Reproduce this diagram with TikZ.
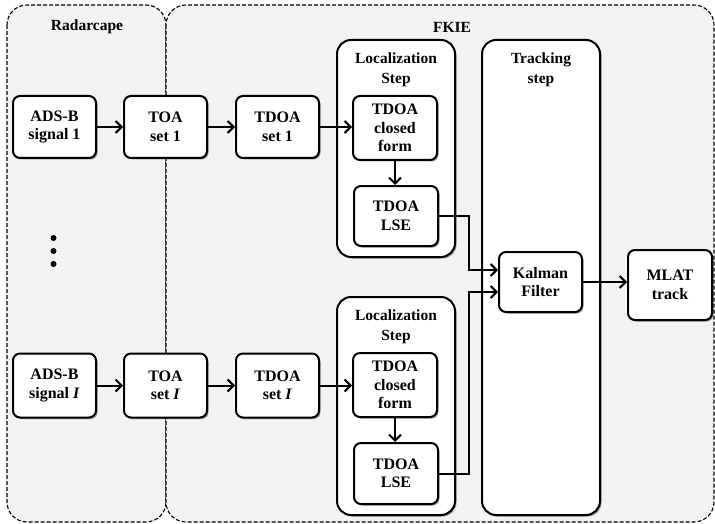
\documentclass[tikz,border=0pt]{standalone}
\usepackage{fontspec}
\setmainfont{Liberation Serif}
\usetikzlibrary{arrows.meta,shadows,calc}
\begin{document}
\begin{tikzpicture}[x=1pt,y=-1pt,
  region/.style={draw=black, line width=1.1pt, dash pattern=on 4pt off 2pt, fill=gray!10, rounded corners=20pt},
  box/.style={draw=black, line width=2pt, fill=white, rounded corners=7pt, align=center,
     font=\bfseries\fontsize{16}{18.5}\selectfont,
     drop shadow={shadow xshift=1.5pt,shadow yshift=-1.5pt,opacity=0.4,fill=black}},
  stage/.style={draw=black, line width=2pt, fill=white, rounded corners=14pt,
     drop shadow={shadow xshift=1.5pt,shadow yshift=-1.5pt,opacity=0.4,fill=black}},
  title/.style={align=center, font=\bfseries\fontsize{15.5}{19.5}\selectfont},
  arr/.style={line width=2pt, -{Straight Barb[length=6pt,width=12pt]}}
]
\useasboundingbox (0,0) rectangle (715,524);
% regions
\draw[region] (7,5) rectangle (166,522);
\draw[region] (166,5) rectangle (714,522);
\node[title] (rc) at (87,27) {Radarcape};
\node[title] (fk) at (452,27) {FKIE};
% stages
\node[stage, minimum width=118pt, minimum height=217pt] (loc1) at (396,148.5) {};
\node[stage, minimum width=118pt, minimum height=218pt] (loc2) at (396,406) {};
\node[stage, minimum width=118pt, minimum height=475pt] (trk) at (541,277.5) {};
\node[title] (loc1t) at (396,70) {Localization\\Step};
\node[title] (loc2t) at (396,327) {Localization\\Step};
\node[title] (trkt) at (541,70) {Tracking\\step};
% row 1
\node[box, minimum width=83pt, minimum height=62pt] (ads1) at (54.5,127) {ADS-B\\signal 1};
\node[box, minimum width=83pt, minimum height=62pt] (toa1) at (165.5,127) {TOA\\set 1};
\node[box, minimum width=83pt, minimum height=62pt] (td1) at (277.5,127) {TDOA\\set 1};
\node[box, minimum width=84pt, minimum height=64pt] (cf1) at (395,128) {TDOA\\closed\\form};
\node[box, minimum width=84pt, minimum height=60pt] (ls1) at (396,216) {TDOA\\LSE};
% row I
\node[box, minimum width=83pt, minimum height=64pt] (ads2) at (54.5,385.5) {ADS-B\\signal \textit{I}};
\node[box, minimum width=83pt, minimum height=64pt] (toa2) at (165.5,385.5) {TOA\\set \textit{I}};
\node[box, minimum width=83pt, minimum height=64pt] (td2) at (277.5,385.5) {TDOA\\set \textit{I}};
\node[box, minimum width=84pt, minimum height=64pt] (cf2) at (395,385) {TDOA\\closed\\form};
\node[box, minimum width=84pt, minimum height=61pt] (ls2) at (396,473.5) {TDOA\\LSE};
% tracking
\node[box, minimum width=83pt, minimum height=60pt] (kf) at (540.5,282) {Kalman\\Filter};
\node[box, minimum width=84pt, minimum height=70pt] (ml) at (670,285) {MLAT\\track};
% dots
\fill (53.5,238) circle (3pt);
\fill (53.5,251) circle (3pt);
\fill (53.5,264) circle (3pt);
% arrows
\draw[arr] (ads1) -- (toa1);
\draw[arr] (toa1) -- (td1);
\draw[arr] (td1.east) -- (td1.east -| cf1.west);
\draw[arr] (cf1) -- (cf1 |- ls1.north);
\draw[arr] (ads2) -- (toa2);
\draw[arr] (toa2) -- (td2);
\draw[arr] (td2.east) -- (td2.east -| cf2.west);
\draw[arr] (cf2) -- (cf2 |- ls2.north);
\draw[arr] (ls1.east) -- ++(30,0) |- ([yshift=12pt]kf.west);
\draw[arr] (ls2.east) -- ++(30,0) |- ([yshift=-10pt]kf.west);
\draw[arr] (kf.east) -- (kf.east -| ml.west);
\end{tikzpicture}
\end{document}
